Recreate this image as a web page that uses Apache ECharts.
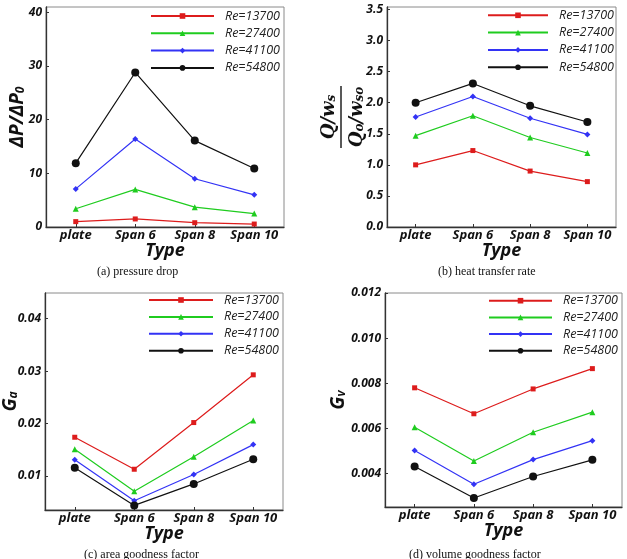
<!DOCTYPE html>
<html>
<head>
<meta charset="utf-8">
<script src="https://cdn.jsdelivr.net/npm/echarts@6/dist/echarts.min.js"></script>
<style>
  html, body { margin: 0; padding: 0; background: #fff; }
  #chart { width: 627px; height: 559px; }
</style>
</head>
<body>
<div id="chart"></div>
<script>
// 类别
const categories = ['plate', 'Span 6', 'Span 8', 'Span 10'];
const reNames = ['Re=13700', 'Re=27400', 'Re=41100', 'Re=54800'];

// (a) pressure drop
const dp13700 = [1.0, 1.5, 0.8, 0.55];
const dp27400 = [3.4, 7.0, 3.7, 2.5];
const dp41100 = [7.1, 16.4, 9.0, 6.0];
const dp54800 = [11.9, 28.8, 16.1, 10.9];

// (b) heat transfer rate
const q13700 = [1.0, 1.23, 0.9, 0.73];
const q27400 = [1.47, 1.79, 1.44, 1.19];
const q41100 = [1.77, 2.1, 1.75, 1.49];
const q54800 = [2.0, 2.31, 1.95, 1.69];

// (c) area goodness factor
const ga13700 = [0.0174, 0.0113, 0.0202, 0.0293];
const ga27400 = [0.0151, 0.0071, 0.0137, 0.0206];
const ga41100 = [0.0131, 0.0053, 0.0103, 0.0160];
const ga54800 = [0.0116, 0.0044, 0.0085, 0.0132];

// (d) volume goodness factor
const gv13700 = [0.0078, 0.00665, 0.00775, 0.00865];
const gv27400 = [0.00605, 0.00456, 0.00583, 0.00672];
const gv41100 = [0.00502, 0.00353, 0.00462, 0.00546];
const gv54800 = [0.00431, 0.00292, 0.00387, 0.00461];

const captions = ['(a) pressure drop', '(b) heat transfer rate', '(c) area goodness factor', '(d) volume goodness factor'];

const colors = ['#dd1c1c', '#1fcc1f', '#3333f5', '#111111'];
const symbols = ['rect', 'triangle', 'diamond', 'circle'];
const symbolSizes = [5, 6, 6, 8];

const font = 'Open Sans';

const myChart = echarts.init(document.getElementById('chart'), null, { renderer: 'canvas' });

// 只显示整刻度的标签
const tickFmt = (digits, step) => (v) =>
  Math.abs(v / step - Math.round(v / step)) < 1e-6 ? v.toFixed(digits) : '';

const grids = [
  { left: 46, top: 7, width: 238, height: 220 },
  { left: 387, top: 7, width: 229, height: 220 },
  { left: 45, top: 293, width: 238, height: 217 },
  { left: 385, top: 293, width: 237, height: 214 },
].map((g) => ({
  ...g,
  show: true,
  borderColor: '#8a8a8a',
  borderWidth: 1,
  outerBoundsMode: 'none',
  containLabel: false,
}));

const xAxis = [0, 1, 2, 3].map((i) => ({
  type: 'category',
  gridIndex: i,
  data: categories,
  name: 'Type',
  nameLocation: 'middle',
  nameGap: 15,
  nameMoveOverlap: false,
  nameTextStyle: { fontFamily: font, fontSize: 18, fontWeight: 'bold', fontStyle: 'italic', color: '#111' },
  axisLine: { show: true, lineStyle: { color: '#333', width: 1.3 } },
  axisTick: { show: true, inside: true, length: 3, alignWithLabel: true, interval: 0, lineStyle: { color: '#333' } },
  axisLabel: { interval: 0, hideOverlap: false, margin: 2, fontFamily: font, fontSize: 13, fontWeight: 'bold', fontStyle: 'italic', color: '#111' },
  splitLine: { show: false },
}));

const yBase = {
  type: 'value',
  nameLocation: 'middle',
  nameRotate: 90,
  nameMoveOverlap: false,
  axisLine: { show: true, lineStyle: { color: '#333', width: 1.3 } },
  axisTick: { show: true, inside: true, length: 3, lineStyle: { color: '#333' } },
  splitLine: { show: false },
};
const yLabel = { margin: 4, fontFamily: font, fontSize: 12, fontWeight: 'bold', fontStyle: 'italic', color: '#111' };
const nameBig = { fontFamily: font, fontSize: 19, fontWeight: 'bold', fontStyle: 'italic', color: '#111', verticalAlign: 'bottom', lineHeight: 24 };
const nameSub = { fontFamily: font, fontSize: 12, fontWeight: 'bold', fontStyle: 'italic', color: '#111', verticalAlign: 'bottom', lineHeight: 16 };
const serifBig = { fontFamily: 'DejaVu Serif', fontSize: 18, fontWeight: 'bold', fontStyle: 'italic', color: '#111', lineHeight: 22, verticalAlign: 'bottom' };
const serifSub = { fontFamily: 'DejaVu Serif', fontSize: 12, fontWeight: 'bold', fontStyle: 'italic', color: '#111', lineHeight: 16, verticalAlign: 'bottom' };

const yAxis = [
  {
    ...yBase,
    gridIndex: 0,
    min: 0,
    max: 41,
    splitNumber: 4,
    name: '{n|ΔP/ΔP}{s|0}',
    nameGap: 19,
    nameTextStyle: { rich: { n: nameBig, s: nameSub } },
    axisLabel: { ...yLabel, formatter: tickFmt(0, 10), showMaxLabel: false },
  },
  {
    ...yBase,
    gridIndex: 1,
    min: 0,
    max: 3.54,
    splitNumber: 7,
    name: '{n|Q/w}{s|s}\n{bar| }\n{n|Q}{s|o}{n|/w}{s|so}',
    nameGap: 21,
    nameTextStyle: {
      rich: {
        n: serifBig,
        s: serifSub,
        bar: { width: 62, height: 1.5, lineHeight: 6, fontSize: 1, backgroundColor: '#222' },
      },
    },
    axisLabel: { ...yLabel, formatter: tickFmt(1, 0.5), showMaxLabel: false },
  },
  {
    ...yBase,
    gridIndex: 2,
    min: 0.00353,
    max: 0.0449,
    splitNumber: 4,
    name: '{n|G}{s|a}',
    nameGap: 25,
    nameTextStyle: { rich: { n: nameBig, s: nameSub } },
    axisLabel: { ...yLabel, formatter: tickFmt(2, 0.01), showMinLabel: false, showMaxLabel: false },
  },
  {
    ...yBase,
    gridIndex: 3,
    min: 0.00252,
    max: 0.012,
    splitNumber: 5,
    name: '{n|G}{s|v}',
    nameGap: 37,
    nameTextStyle: { rich: { n: nameBig, s: nameSub } },
    axisLabel: { ...yLabel, formatter: tickFmt(3, 0.002), showMinLabel: false },
  },
];

const panelData = [
  [dp13700, dp27400, dp41100, dp54800],
  [q13700, q27400, q41100, q54800],
  [ga13700, ga27400, ga41100, ga54800],
  [gv13700, gv27400, gv41100, gv54800],
];

const series = [];
panelData.forEach((lines, p) => {
  lines.forEach((vals, k) => {
    series.push({
      name: reNames[k],
      type: 'line',
      xAxisIndex: p,
      yAxisIndex: p,
      data: vals,
      symbol: symbols[k],
      symbolSize: symbolSizes[k],
      showAllSymbol: true,
      lineStyle: { color: colors[k], width: 1.2 },
      itemStyle: { color: colors[k] },
      emphasis: { disabled: true },
      z: 3 + k,
    });
  });
});

// 图例位置
const legendPos = [
  { left: 150, top: 9, itemWidth: 63, itemGap: 3.3 },
  { left: 487, top: 8.3, itemWidth: 60, itemGap: 3.3 },
  { left: 148, top: 293, itemWidth: 64, itemGap: 2.9 },
  { left: 488, top: 293.7, itemWidth: 63, itemGap: 2.7 },
];
const legend = legendPos.map((l) => ({
  ...l,
  data: reNames,
  orient: 'vertical',
  padding: 0,
  itemHeight: 7,
  selectedMode: false,
  textStyle: { fontFamily: font, fontStyle: 'italic', fontSize: 12.5, color: '#222', lineHeight: 14, padding: [0, 0, 0, 6] },
}));

const title = [
  { left: 97, top: 266 },
  { left: 438, top: 266 },
  { left: 84, top: 549 },
  { left: 409, top: 549 },
].map((t, i) => ({
  ...t,
  text: captions[i],
  padding: 0,
  textStyle: { fontFamily: 'Liberation Serif', fontSize: 12, fontWeight: 'normal', color: '#111' },
}));

const option = {
  animation: false,
  backgroundColor: '#fff',
  title,
  legend,
  grid: grids,
  xAxis,
  yAxis,
  series,
};

myChart.setOption(option);
</script>
</body>
</html>
